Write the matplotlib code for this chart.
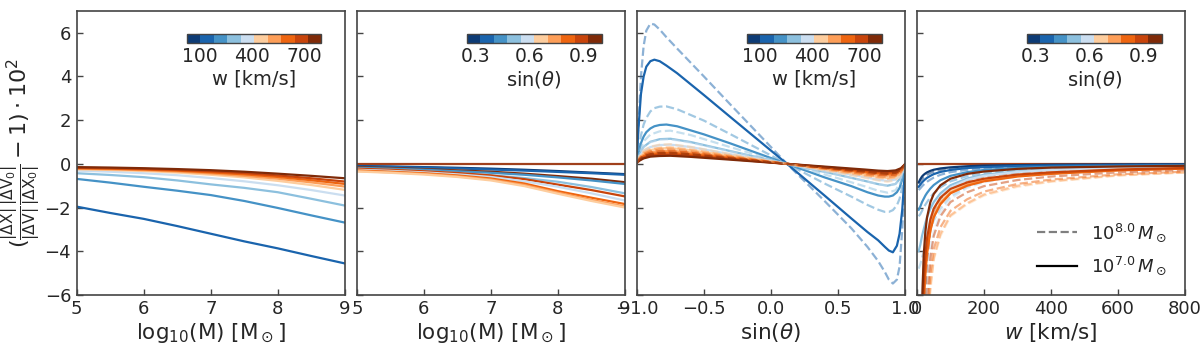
import matplotlib
matplotlib.use("Agg")
import matplotlib.pyplot as plt
from matplotlib.colors import ListedColormap, Normalize
from matplotlib.colorbar import ColorbarBase
from matplotlib.lines import Line2D

plt.rcParams['font.family'] = ['DejaVu Sans']
plt.rcParams['mathtext.fontset'] = 'dejavusans'

# ---------------- data ----------------
PALETTE = ['#0d3b75', '#1a64ad', '#4592c6', '#8cc0de', '#cbdef0',
           '#fdcd9e', '#fd9e58', '#ee6510', '#c8440b', '#7f2a08']
FLAT_COLOR = '#a0401c'

W_RANGE = (25, 800)
W_TICKS = [100, 400, 700]
SIN_RANGE = (0.25, 1.0)
SIN_TICKS = [0.3, 0.6, 0.9]

# Panel 1: curves vs log10(M), one per w
P1_X = [5, 5.5, 6, 6.5, 7, 7.5, 8, 8.5, 9]
P1_COLOR_IDX = [1, 2, 3, 4, 5, 6, 7, 8, 9]
P1_Y = [
    [-1.96, -2.25, -2.52, -2.85, -3.20, -3.55, -3.87, -4.22, -4.56],
    [-0.69, -0.86, -1.05, -1.23, -1.43, -1.70, -2.02, -2.36, -2.69],
    [-0.43, -0.51, -0.61, -0.76, -0.94, -1.10, -1.30, -1.60, -1.91],
    [-0.31, -0.36, -0.43, -0.52, -0.65, -0.80, -0.98, -1.20, -1.45],
    [-0.25, -0.28, -0.33, -0.40, -0.50, -0.62, -0.78, -0.97, -1.19],
    [-0.22, -0.25, -0.29, -0.35, -0.44, -0.55, -0.68, -0.85, -1.04],
    [-0.20, -0.22, -0.26, -0.31, -0.39, -0.48, -0.60, -0.75, -0.92],
    [-0.18, -0.20, -0.23, -0.28, -0.34, -0.42, -0.53, -0.66, -0.81],
    [-0.15, -0.17, -0.20, -0.24, -0.29, -0.36, -0.45, -0.55, -0.66],
]

# Panel 2: curves vs log10(M), one per sin(theta)
P2_X = [5, 5.5, 6, 6.5, 7, 7.5, 8, 8.5, 9]
P2_COLOR_IDX = [0, 1, 9, 2, 3, 8, 4, 7, 6, 5]
P2_Y = [
    [-0.10, -0.12, -0.15, -0.18, -0.22, -0.27, -0.33, -0.40, -0.47],
    [-0.12, -0.14, -0.17, -0.21, -0.26, -0.31, -0.37, -0.43, -0.50],
    [-0.15, -0.19, -0.24, -0.30, -0.36, -0.45, -0.56, -0.68, -0.84],
    [-0.18, -0.22, -0.27, -0.34, -0.41, -0.50, -0.62, -0.76, -0.92],
    [-0.22, -0.27, -0.33, -0.42, -0.52, -0.65, -0.82, -1.06, -1.35],
    [-0.22, -0.27, -0.34, -0.42, -0.53, -0.70, -0.95, -1.20, -1.49],
    [-0.27, -0.32, -0.39, -0.48, -0.60, -0.80, -1.05, -1.35, -1.68],
    [-0.30, -0.36, -0.43, -0.53, -0.67, -0.90, -1.25, -1.55, -1.84],
    [-0.33, -0.39, -0.46, -0.57, -0.72, -0.97, -1.32, -1.65, -1.95],
    [-0.35, -0.41, -0.49, -0.60, -0.76, -1.02, -1.37, -1.70, -2.00],
]
P2_FLAT = [0, 0, 0, 0, 0, 0, 0, 0, 0]

# Panel 3: curves vs sin(theta), one per w; solid = 1e7 Msun, dashed = 1e8 Msun
P3_X_BIG = [-1.0, -0.99, -0.97, -0.95, -0.93, -0.9, -0.87, -0.83, -0.78, -0.7, -0.5, -0.3, 0.12,
            0.4, 0.6, 0.72, 0.8, 0.85, 0.88, 0.91, 0.94, 0.96, 0.98, 0.99, 1.0]
P3_BIG_COLOR_IDX = [1, 2]
P3_BIG_SOLID = [
    [0.30, 1.50, 3.20, 4.00, 4.45, 4.70, 4.77, 4.70, 4.50, 4.15, 3.15, 2.13, 0.0,
     -1.45, -2.50, -3.12, -3.50, -3.80, -3.97, -4.05, -3.75, -3.20, -2.10, -1.20, -0.15],
    [0.10, 0.45, 0.95, 1.25, 1.45, 1.62, 1.72, 1.78, 1.80, 1.72, 1.35, 0.93, 0.0,
     -0.62, -1.02, -1.30, -1.45, -1.50, -1.50, -1.45, -1.30, -1.10, -0.70, -0.40, -0.10],
]
P3_BIG_DASHED = [
    [0.10, 1.60, 4.00, 5.40, 6.10, 6.42, 6.38, 6.15, 5.80, 5.28, 4.00, 2.70, 0.0,
     -1.70, -2.95, -3.80, -4.45, -4.95, -5.30, -5.48, -5.30, -4.70, -3.00, -1.70, -0.20],
    [0.05, 0.55, 1.30, 1.80, 2.10, 2.40, 2.55, 2.62, 2.63, 2.50, 1.98, 1.35, 0.0,
     -0.90, -1.50, -1.88, -2.10, -2.20, -2.20, -2.12, -1.90, -1.60, -1.05, -0.60, -0.10],
]
P3_X_SMALL = [-1.0, -0.98, -0.95, -0.9, -0.83, -0.75, -0.6, -0.3, 0.12, 0.5, 0.7, 0.8, 0.87, 0.93, 0.97, 1.0]
P3_SMALL_COLOR_IDX = [3, 4, 5, 6, 7, 8, 9]
P3_SMALL_SOLID = [
    [0.05, 0.46, 0.78, 1.01, 1.13, 1.15, 1.00, 0.58, 0.0, -0.50, -0.78, -0.93, -1.00, -0.92, -0.62, -0.06],
    [0.05, 0.35, 0.60, 0.77, 0.86, 0.88, 0.77, 0.44, 0.0, -0.39, -0.61, -0.73, -0.78, -0.72, -0.48, -0.05],
    [0.05, 0.29, 0.49, 0.63, 0.71, 0.72, 0.63, 0.36, 0.0, -0.33, -0.51, -0.60, -0.65, -0.60, -0.40, -0.04],
    [0.05, 0.24, 0.41, 0.53, 0.59, 0.60, 0.52, 0.30, 0.0, -0.27, -0.42, -0.50, -0.54, -0.50, -0.33, -0.03],
    [0.05, 0.20, 0.35, 0.45, 0.50, 0.51, 0.44, 0.26, 0.0, -0.23, -0.36, -0.43, -0.46, -0.42, -0.29, -0.03],
    [0.05, 0.17, 0.29, 0.38, 0.42, 0.43, 0.37, 0.22, 0.0, -0.20, -0.30, -0.36, -0.39, -0.36, -0.24, -0.02],
    [0.05, 0.15, 0.25, 0.33, 0.36, 0.37, 0.32, 0.19, 0.0, -0.17, -0.26, -0.31, -0.33, -0.30, -0.20, -0.02],
]
P3_SMALL_DASHED = [
    [0.05, 0.61, 1.03, 1.34, 1.49, 1.52, 1.32, 0.76, 0.0, -0.66, -1.03, -1.23, -1.32, -1.21, -0.82, -0.08],
    [0.05, 0.45, 0.76, 0.99, 1.10, 1.12, 0.97, 0.56, 0.0, -0.50, -0.78, -0.93, -1.00, -0.92, -0.62, -0.06],
    [0.05, 0.36, 0.61, 0.79, 0.88, 0.90, 0.78, 0.45, 0.0, -0.41, -0.64, -0.76, -0.82, -0.75, -0.51, -0.05],
    [0.05, 0.30, 0.52, 0.67, 0.74, 0.76, 0.66, 0.38, 0.0, -0.35, -0.54, -0.64, -0.69, -0.63, -0.43, -0.04],
    [0.05, 0.26, 0.45, 0.58, 0.65, 0.66, 0.57, 0.33, 0.0, -0.30, -0.47, -0.56, -0.60, -0.55, -0.37, -0.04],
    [0.05, 0.23, 0.39, 0.50, 0.56, 0.57, 0.50, 0.29, 0.0, -0.26, -0.41, -0.48, -0.52, -0.48, -0.32, -0.03],
    [0.05, 0.20, 0.34, 0.44, 0.49, 0.50, 0.44, 0.25, 0.0, -0.23, -0.35, -0.42, -0.45, -0.41, -0.28, -0.03],
]

# Panel 4: curves vs w, one per sin(theta); solid = 1e7 Msun, dashed = 1e8 Msun
P4_X = [5, 10, 15, 20, 25, 30, 40, 50, 70, 100, 150, 200, 300, 400, 600, 800]
P4_COLOR_IDX = [0, 1, 2, 3, 4, 5, 6, 7, 8, 9]
P4_SOLID = [
    [-0.85, -0.70, -0.58, -0.50, -0.44, -0.39, -0.32, -0.27, -0.21, -0.16, -0.11, -0.08, -0.06, -0.04, -0.03, -0.02],
    [-1.05, -0.95, -0.85, -0.77, -0.70, -0.64, -0.55, -0.47, -0.37, -0.28, -0.19, -0.15, -0.10, -0.08, -0.05, -0.04],
    [-2.10, -1.95, -1.75, -1.60, -1.45, -1.33, -1.13, -0.97, -0.75, -0.55, -0.38, -0.28, -0.19, -0.14, -0.10, -0.07],
    [-4.00, -3.70, -3.30, -3.00, -2.70, -2.45, -2.05, -1.75, -1.35, -0.98, -0.67, -0.50, -0.34, -0.26, -0.17, -0.13],
    [-9.00, -7.50, -5.80, -4.60, -3.80, -3.20, -2.50, -2.05, -1.50, -1.08, -0.73, -0.55, -0.37, -0.28, -0.19, -0.14],
    [-30.0, -20.0, -9.00, -6.00, -4.70, -3.90, -2.95, -2.35, -1.75, -1.28, -0.92, -0.72, -0.52, -0.41, -0.27, -0.20],
    [-30.0, -20.0, -9.00, -6.20, -4.90, -4.00, -3.00, -2.40, -1.80, -1.32, -0.96, -0.76, -0.55, -0.44, -0.29, -0.21],
    [-30.0, -20.0, -9.00, -6.30, -5.00, -4.10, -3.05, -2.45, -1.85, -1.35, -1.00, -0.80, -0.58, -0.46, -0.30, -0.22],
    [-30.0, -18.0, -8.00, -5.50, -4.20, -3.40, -2.55, -2.05, -1.55, -1.15, -0.85, -0.68, -0.49, -0.39, -0.26, -0.19],
    [-30.0, -15.0, -6.50, -4.20, -3.10, -2.45, -1.75, -1.38, -0.98, -0.68, -0.46, -0.35, -0.23, -0.17, -0.12, -0.09],
]
P4_DASHED = [
    [-0.90, -0.80, -0.70, -0.62, -0.56, -0.50, -0.42, -0.36, -0.28, -0.21, -0.15, -0.11, -0.08, -0.06, -0.04, -0.03],
    [-1.20, -1.12, -1.03, -0.95, -0.88, -0.82, -0.72, -0.63, -0.50, -0.38, -0.27, -0.21, -0.14, -0.11, -0.07, -0.05],
    [-2.40, -2.30, -2.15, -2.00, -1.87, -1.75, -1.53, -1.35, -1.07, -0.80, -0.56, -0.43, -0.29, -0.22, -0.15, -0.11],
    [-4.80, -4.60, -4.30, -4.00, -3.70, -3.45, -3.00, -2.60, -2.05, -1.50, -1.05, -0.80, -0.55, -0.42, -0.28, -0.21],
    [-30.0, -20.0, -12.0, -8.00, -6.30, -5.20, -3.90, -3.10, -2.25, -1.60, -1.10, -0.85, -0.58, -0.44, -0.30, -0.22],
    [-30.0, -30.0, -25.0, -15.0, -10.0, -8.00, -5.80, -4.40, -3.30, -2.40, -1.85, -1.45, -1.05, -0.82, -0.54, -0.40],
    [-30.0, -30.0, -25.0, -15.0, -10.0, -7.80, -5.60, -4.30, -3.20, -2.35, -1.80, -1.40, -1.00, -0.79, -0.52, -0.39],
    [-30.0, -30.0, -25.0, -14.0, -9.50, -7.20, -5.00, -3.90, -2.90, -2.15, -1.62, -1.27, -0.92, -0.72, -0.48, -0.36],
    [-30.0, -30.0, -22.0, -12.0, -8.00, -6.20, -4.30, -3.30, -2.40, -1.75, -1.30, -1.02, -0.74, -0.58, -0.39, -0.29],
    [-30.0, -28.0, -16.0, -8.50, -5.80, -4.40, -3.00, -2.30, -1.60, -1.10, -0.75, -0.57, -0.39, -0.29, -0.20, -0.15],
]
P4_FLAT = [0] * len(P4_X)

# ---------------- figure ----------------
fig, axes = plt.subplots(1, 4, figsize=(12, 3.54), dpi=100, sharey=True)
fig.subplots_adjust(left=0.064, right=0.9875, top=0.969, bottom=0.167, wspace=0.045)

SPINE = '#444444'
TEXT = '#262626'
LW = 1.6
DASH_ALPHA = 0.5
XL = 15.5

for ax in axes:
    for s in ax.spines.values():
        s.set_color(SPINE)
        s.set_linewidth(1.2)
    ax.tick_params(direction='in', length=4, width=1, color=SPINE,
                   labelsize=13, labelcolor=TEXT, pad=4)
    ax.set_ylim(-6, 7)
    ax.set_yticks([-6, -4, -2, 0, 2, 4, 6])

cmap = ListedColormap(PALETTE)


def add_cbar(ax, vrange, ticks, label):
    cax = ax.inset_axes([0.41, 0.887, 0.503, 0.032])
    cb = ColorbarBase(cax, cmap=cmap, norm=Normalize(*vrange),
                      orientation='horizontal', ticks=ticks)
    cb.outline.set_edgecolor('#444444')
    cb.outline.set_linewidth(1.0)
    cax.tick_params(length=0, labelsize=13.5, pad=3, labelcolor=TEXT)
    cb.set_label(label, fontsize=14, labelpad=2, color=TEXT)


# Panel 1
ax = axes[0]
for ci, ys in zip(P1_COLOR_IDX, P1_Y):
    ax.plot(P1_X, ys, color=PALETTE[ci], lw=LW)
ax.set_xlim(5, 9)
ax.set_xticks([5, 6, 7, 8, 9])
ax.set_xlabel(r'log$_{10}$(M) [M$_\odot$]', fontsize=XL, labelpad=2, color=TEXT)
ax.set_ylabel(r'$(\frac{|\Delta \mathrm{X}|}{|\Delta \mathrm{V}|}\frac{|\Delta \mathrm{V}_0|}{|\Delta \mathrm{X}_0|}-1)\cdot 10^2$',
              fontsize=16, labelpad=2, color=TEXT)
add_cbar(ax, W_RANGE, W_TICKS, 'w [km/s]')

# Panel 2
ax = axes[1]
ax.plot(P2_X, P2_FLAT, color=FLAT_COLOR, lw=LW)
for ci, ys in zip(P2_COLOR_IDX, P2_Y):
    ax.plot(P2_X, ys, color=PALETTE[ci], lw=LW)
ax.set_xlim(5, 9)
ax.set_xticks([5, 6, 7, 8, 9])
ax.set_xlabel(r'log$_{10}$(M) [M$_\odot$]', fontsize=XL, labelpad=2, color=TEXT)
add_cbar(ax, SIN_RANGE, SIN_TICKS, r'sin($\theta$)')

# Panel 3
ax = axes[2]
for ci, ys in zip(P3_BIG_COLOR_IDX, P3_BIG_SOLID):
    ax.plot(P3_X_BIG, ys, color=PALETTE[ci], lw=LW)
for ci, ys in zip(P3_SMALL_COLOR_IDX, P3_SMALL_SOLID):
    ax.plot(P3_X_SMALL, ys, color=PALETTE[ci], lw=LW)
for ci, ys in zip(P3_BIG_COLOR_IDX, P3_BIG_DASHED):
    ax.plot(P3_X_BIG, ys, color=PALETTE[ci], lw=LW, ls='--', alpha=DASH_ALPHA)
for ci, ys in zip(P3_SMALL_COLOR_IDX, P3_SMALL_DASHED):
    ax.plot(P3_X_SMALL, ys, color=PALETTE[ci], lw=LW, ls='--', alpha=DASH_ALPHA)
ax.set_xlim(-1, 1)
ax.set_xticks([-1.0, -0.5, 0.0, 0.5, 1.0])
ax.set_xticklabels(['\u22121.0', '\u22120.5', '0.0', '0.5', '1.0'])
ax.set_xlabel(r'sin($\theta$)', fontsize=XL, labelpad=2, color=TEXT)
add_cbar(ax, W_RANGE, W_TICKS, 'w [km/s]')

# Panel 4
ax = axes[3]
ax.plot(P4_X, P4_FLAT, color=FLAT_COLOR, lw=LW)
for ci, ys in zip(P4_COLOR_IDX, P4_DASHED):
    ax.plot(P4_X, ys, color=PALETTE[ci], lw=LW, ls='--', alpha=DASH_ALPHA)
for ci, ys in zip(P4_COLOR_IDX, P4_SOLID):
    ax.plot(P4_X, ys, color=PALETTE[ci], lw=LW)
ax.set_xlim(0, 800)
ax.set_xticks([0, 200, 400, 600, 800])
ax.set_xlabel(r'$w$ [km/s]', fontsize=XL, labelpad=2, color=TEXT)
add_cbar(ax, SIN_RANGE, SIN_TICKS, r'sin($\theta$)')
handles = [Line2D([], [], color='black', ls='--', lw=LW, alpha=DASH_ALPHA),
           Line2D([], [], color='black', ls='-', lw=LW)]
leg = ax.legend(handles, [r'$10^{8.0}\,M_\odot$', r'$10^{7.0}\,M_\odot$'],
                loc='lower right', frameon=False, fontsize=13,
                handlelength=2.2, labelspacing=0.6, borderaxespad=0.6)
for t in leg.get_texts():
    t.set_color(TEXT)

fig.savefig('out.png', dpi=100)
